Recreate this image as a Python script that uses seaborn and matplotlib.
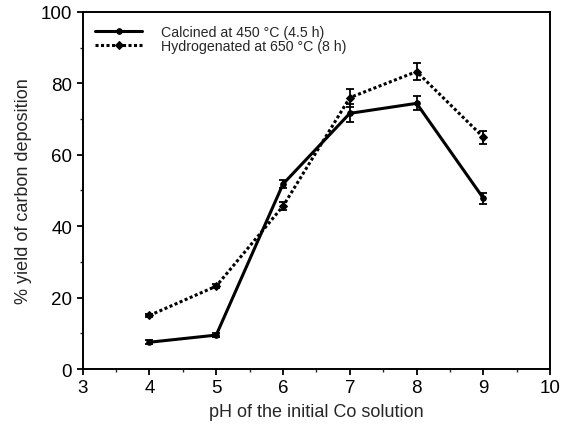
import seaborn as sns
import matplotlib.pyplot as plt
import pandas as pd
from matplotlib.ticker import MultipleLocator

ph = [4, 5, 6, 7, 8, 9]
calcined = [7.5, 9.5, 51.8, 71.6, 74.4, 47.8]
calcined_err = [0.5, 0.6, 1.2, 2.5, 2.0, 1.5]
hydrogenated = [15.0, 23.2, 45.6, 76.0, 83.3, 64.9]
hydrogenated_err = [0.5, 0.5, 1.2, 2.5, 2.5, 1.8]

label_c = 'Calcined at 450 °C (4.5 h)'
label_h = 'Hydrogenated at 650 °C (8 h)'

df = pd.DataFrame({
    'pH': ph * 2,
    'yield': calcined + hydrogenated,
    'err': calcined_err + hydrogenated_err,
    'treatment': [label_c] * len(ph) + [label_h] * len(ph),
})

sns.set_style('ticks')
plt.rcParams['font.family'] = ['Liberation Sans', 'DejaVu Sans']

fig = plt.figure(figsize=(5.62, 4.31), dpi=100)
ax = fig.add_axes([0.147, 0.1415, 0.832, 0.8285])

sns.lineplot(data=df, x='pH', y='yield', hue='treatment', style='treatment',
             palette=['black', 'black'], dashes={label_c: '', label_h: (1, 0.8)},
             markers={label_c: 'o', label_h: 'D'}, markersize=4, linewidth=2.2,
             markeredgecolor='black', ax=ax)

for name, g in df.groupby('treatment'):
    ax.errorbar(g['pH'], g['yield'], yerr=g['err'], fmt='none', ecolor='black',
                elinewidth=1.3, capsize=3, capthick=1.3)

ax.set_xlim(3, 10)
ax.set_ylim(0, 100)
ax.xaxis.set_major_locator(MultipleLocator(1))
ax.xaxis.set_minor_locator(MultipleLocator(0.5))
ax.yaxis.set_major_locator(MultipleLocator(20))
ax.yaxis.set_minor_locator(MultipleLocator(10))
ax.tick_params(which='major', length=4, width=1.3, labelsize=13.5, colors='black')
ax.tick_params(which='minor', length=2.5, width=1)
for s in ax.spines.values():
    s.set_linewidth(1.4)
    s.set_color('black')

ax.set_xlabel('pH of the initial Co solution', fontsize=13, labelpad=5)
ax.set_ylabel('% yield of carbon deposition', fontsize=13, labelpad=6)

leg = ax.legend(loc='upper left', frameon=False, fontsize=10.2, handlelength=3.3,
                borderaxespad=0.5, labelspacing=0.05, handletextpad=1.3)

fig.savefig('out.png', dpi=100)
